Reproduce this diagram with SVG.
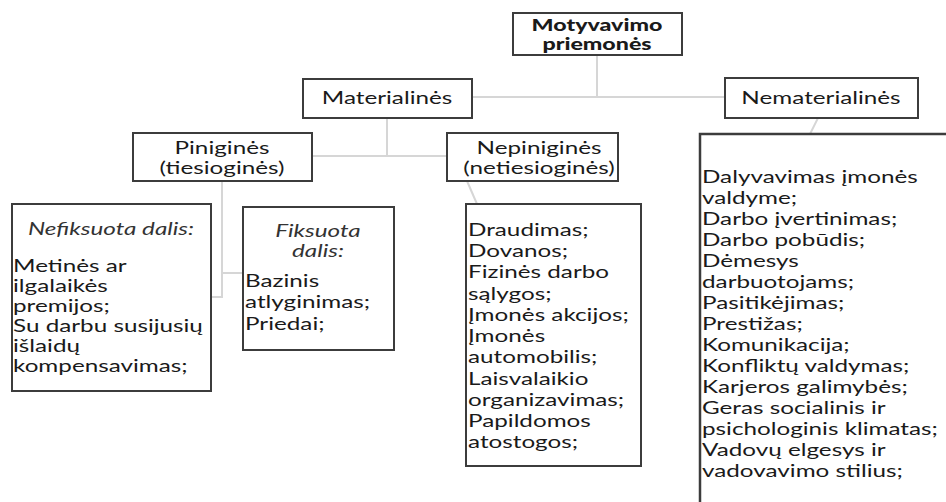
<svg xmlns="http://www.w3.org/2000/svg" width="946" height="502" viewBox="0 0 946 502">
  <style>
    .box{fill:#fff;stroke:#3c3c3c;stroke-width:2}
    .conn{stroke:#d6d6d6;stroke-width:2;fill:none}
    text{font-family:Lato,"Liberation Sans",sans-serif;font-size:16.5px;fill:#1a1a1a}
    .c{text-anchor:middle}
    .b{font-weight:900;font-size:16px}
    .i{font-style:italic;fill:#333}
  </style>
  <rect width="946" height="502" fill="#fff"/>

  <!-- connectors -->
  <g id="connectors">
    <path class="conn" d="M597,55 V97 M472,97 H725"/>
    <path class="conn" d="M387,118 V156 M312,156 H447"/>
    <path class="conn" d="M222,181 V297 H211 M222,273 H243"/>
    <path class="conn" d="M467,181 L477,204"/>
    <path class="conn" d="M818,118 L810,134"/>
  </g>

  <g id="root">
    <rect class="box" x="513" y="13" width="169" height="42"/>
    <g transform="translate(597,0) scale(1.45,1)">
      <text class="c b" x="0" y="31">Motyvavimo</text>
      <text class="c b" x="0" y="50">priemonės</text>
    </g>
  </g>

  <g id="materialines">
    <rect class="box" x="303" y="79" width="169" height="39"/>
    <g transform="translate(387,0) scale(1.47,1)">
      <text class="c" x="0" y="104">Materialinės</text>
    </g>
  </g>

  <g id="nematerialines">
    <rect class="box" x="725" y="78" width="193" height="40"/>
    <g transform="translate(821,0) scale(1.47,1)">
      <text class="c" x="0" y="104">Nematerialinės</text>
    </g>
  </g>

  <g id="pinigines">
    <rect class="box" x="133" y="133" width="179" height="48"/>
    <g transform="translate(222,0) scale(1.47,1)">
      <text class="c" x="0" y="154">Piniginės</text>
      <text class="c" x="0" y="174">(tiesioginės)</text>
    </g>
  </g>

  <g id="nepinigines">
    <rect class="box" x="447" y="133" width="171" height="48"/>
    <g transform="translate(539,0) scale(1.47,1)">
      <text class="c" x="0" y="154">Nepiniginės</text>
      <text class="c" x="0" y="174">(netiesioginės)</text>
    </g>
  </g>

  <g id="nefiksuota">
    <rect class="box" x="12" y="204" width="199" height="187"/>
    <g transform="translate(111,0) scale(1.47,1)">
      <text class="c i" x="0" y="235">Nefiksuota dalis:</text>
    </g>
    <g transform="translate(13,0) scale(1.47,1)">
      <text x="0" y="272">Metinės ar</text>
      <text x="0" y="292">ilgalaikės</text>
      <text x="0" y="312">premijos;</text>
      <text x="0" y="332">Su darbu susijusių</text>
      <text x="0" y="352">išlaidų</text>
      <text x="0" y="372">kompensavimas;</text>
    </g>
  </g>

  <g id="fiksuota">
    <rect class="box" x="243" y="207" width="151" height="143"/>
    <g transform="translate(318,0) scale(1.47,1)">
      <text class="c i" x="0" y="237">Fiksuota</text>
      <text class="c i" x="0" y="257">dalis:</text>
    </g>
    <g transform="translate(245,0) scale(1.47,1)">
      <text x="0" y="287">Bazinis</text>
      <text x="0" y="308">atlyginimas;</text>
      <text x="0" y="330">Priedai;</text>
    </g>
  </g>

  <g id="nepinigines-list">
    <rect class="box" x="466" y="204" width="175" height="262"/>
    <g transform="translate(468,0) scale(1.47,1)">
      <text x="0" y="236">Draudimas;</text>
      <text x="0" y="257">Dovanos;</text>
      <text x="0" y="278">Fizinės darbo</text>
      <text x="0" y="300">sąlygos;</text>
      <text x="0" y="321">Įmonės akcijos;</text>
      <text x="0" y="342">Įmonės</text>
      <text x="0" y="363">automobilis;</text>
      <text x="0" y="385">Laisvalaikio</text>
      <text x="0" y="406">organizavimas;</text>
      <text x="0" y="427">Papildomos</text>
      <text x="0" y="448">atostogos;</text>
    </g>
  </g>

  <g id="nematerialines-list">
    <rect class="box" x="700" y="134" width="260" height="380" style="stroke-width:2.5"/>
    <g transform="translate(702,0) scale(1.47,1)">
      <text x="0" y="183">Dalyvavimas įmonės</text>
      <text x="0" y="204">valdyme;</text>
      <text x="0" y="225">Darbo įvertinimas;</text>
      <text x="0" y="246">Darbo pobūdis;</text>
      <text x="0" y="267">Dėmesys</text>
      <text x="0" y="288">darbuotojams;</text>
      <text x="0" y="309">Pasitikėjimas;</text>
      <text x="0" y="330">Prestižas;</text>
      <text x="0" y="351">Komunikacija;</text>
      <text x="0" y="372">Konfliktų valdymas;</text>
      <text x="0" y="393">Karjeros galimybės;</text>
      <text x="0" y="414">Geras socialinis ir</text>
      <text x="0" y="435">psichologinis klimatas;</text>
      <text x="0" y="456">Vadovų elgesys ir</text>
      <text x="0" y="477">vadovavimo stilius;</text>
    </g>
  </g>
</svg>
